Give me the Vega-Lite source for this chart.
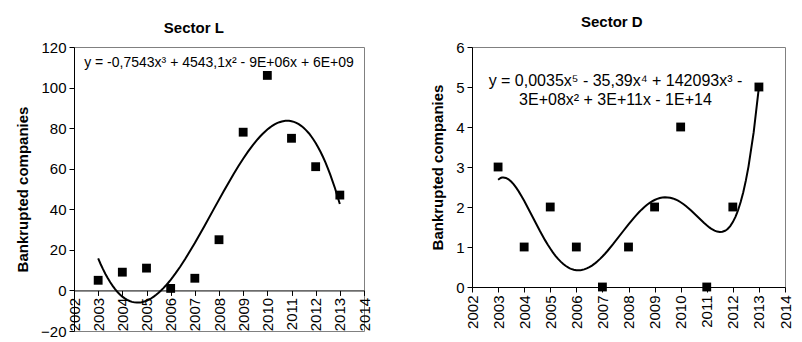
{
  "$schema": "https://vega.github.io/schema/vega-lite/v6.json",
  "background": "white",
  "padding": {"left": 15, "top": 14, "right": 4, "bottom": 2},
  "spacing": 57,
  "datasets": {
    "sectorL": [
      {"year": 2003, "companies": 5},
      {"year": 2004, "companies": 9},
      {"year": 2005, "companies": 11},
      {"year": 2006, "companies": 1},
      {"year": 2007, "companies": 6},
      {"year": 2008, "companies": 25},
      {"year": 2009, "companies": 78},
      {"year": 2010, "companies": 106},
      {"year": 2011, "companies": 75},
      {"year": 2012, "companies": 61},
      {"year": 2013, "companies": 47}
    ],
    "sectorD": [
      {"year": 2003, "companies": 3},
      {"year": 2004, "companies": 1},
      {"year": 2005, "companies": 2},
      {"year": 2006, "companies": 1},
      {"year": 2007, "companies": 0},
      {"year": 2008, "companies": 1},
      {"year": 2009, "companies": 2},
      {"year": 2010, "companies": 4},
      {"year": 2011, "companies": 0},
      {"year": 2012, "companies": 2},
      {"year": 2013, "companies": 5}
    ]
  },
  "hconcat": [
    {
      "width": 290,
      "height": 284,
      "title": {"text": "Sector L", "offset": 4},
      "layer": [
        {
          "data": {"name": "sectorL"},
          "transform": [
            {"regression": "companies", "on": "year", "method": "poly", "order": 3, "extent": [2003, 2013]}
          ],
          "mark": {"type": "line", "color": "black", "strokeWidth": 2},
          "encoding": {
            "x": {
              "field": "year", "type": "quantitative",
              "scale": {"domain": [2002, 2014], "nice": false, "zero": false},
              "axis": {
                "values": [2002, 2003, 2004, 2005, 2006, 2007, 2008, 2009, 2010, 2011, 2012, 2013, 2014],
                "format": "d", "labelAngle": -90, "title": null, "offset": -40.57,
                "tickSize": 5, "labelPadding": 2, "labelOverlap": false, "labelFlush": false
              }
            },
            "y": {
              "field": "companies", "type": "quantitative",
              "scale": {"domain": [-20, 120], "nice": false, "zero": false},
              "axis": {
                "values": [-20, 0, 20, 40, 60, 80, 100, 120],
                "title": "Bankrupted companies", "tickSize": 5, "labelPadding": 3,
                "titlePadding": 10, "labelOverlap": false, "labelFlush": false
              }
            }
          }
        },
        {
          "data": {"name": "sectorL"},
          "mark": {"type": "square", "color": "black", "filled": true, "opacity": 1, "size": 78},
          "encoding": {
            "x": {
              "field": "year", "type": "quantitative",
              "scale": {"domain": [2002, 2014], "nice": false, "zero": false},
              "axis": {
                "values": [2002, 2003, 2004, 2005, 2006, 2007, 2008, 2009, 2010, 2011, 2012, 2013, 2014],
                "format": "d", "labelAngle": -90, "title": null, "offset": -40.57,
                "tickSize": 5, "labelPadding": 2, "labelOverlap": false, "labelFlush": false
              }
            },
            "y": {
              "field": "companies", "type": "quantitative",
              "scale": {"domain": [-20, 120], "nice": false, "zero": false},
              "axis": {
                "values": [-20, 0, 20, 40, 60, 80, 100, 120],
                "title": "Bankrupted companies", "tickSize": 5, "labelPadding": 3,
                "titlePadding": 10, "labelOverlap": false, "labelFlush": false
              }
            }
          }
        },
        {
          "data": {"values": [{}]},
          "mark": {
            "type": "text", "font": "Liberation Sans", "fontSize": 14, "color": "black",
            "align": "center", "baseline": "middle"
          },
          "encoding": {
            "x": {
              "datum": 2008, "type": "quantitative",
              "scale": {"domain": [2002, 2014], "nice": false, "zero": false},
              "axis": {
                "values": [2002, 2003, 2004, 2005, 2006, 2007, 2008, 2009, 2010, 2011, 2012, 2013, 2014],
                "format": "d", "labelAngle": -90, "title": null, "offset": -40.57,
                "tickSize": 5, "labelPadding": 2, "labelOverlap": false, "labelFlush": false
              }
            },
            "y": {
              "datum": 112, "type": "quantitative",
              "scale": {"domain": [-20, 120], "nice": false, "zero": false},
              "axis": {
                "values": [-20, 0, 20, 40, 60, 80, 100, 120],
                "title": "Bankrupted companies", "tickSize": 5, "labelPadding": 3,
                "titlePadding": 10, "labelOverlap": false, "labelFlush": false
              }
            },
            "text": {"value": "y = -0,7543x³ + 4543,1x² - 9E+06x + 6E+09"}
          }
        }
      ]
    },
    {
      "width": 313,
      "height": 240,
      "title": {"text": "Sector D", "offset": 9.6},
      "layer": [
        {
          "data": {"name": "sectorD"},
          "transform": [
            {"regression": "companies", "on": "year", "method": "poly", "order": 5, "extent": [2003, 2013]}
          ],
          "mark": {"type": "line", "color": "black", "strokeWidth": 2},
          "encoding": {
            "x": {
              "field": "year", "type": "quantitative",
              "scale": {"domain": [2002, 2014], "nice": false, "zero": false},
              "axis": {
                "values": [2002, 2003, 2004, 2005, 2006, 2007, 2008, 2009, 2010, 2011, 2012, 2013, 2014],
                "format": "d", "labelAngle": -90, "title": null,
                "tickSize": 5, "labelPadding": 3, "labelOverlap": false, "labelFlush": false
              }
            },
            "y": {
              "field": "companies", "type": "quantitative",
              "scale": {"domain": [0, 6], "nice": false, "zero": false},
              "axis": {
                "values": [0, 1, 2, 3, 4, 5, 6],
                "title": "Bankrupted companies", "tickSize": 5, "labelPadding": 3,
                "titlePadding": 10, "labelOverlap": false, "labelFlush": false
              }
            }
          }
        },
        {
          "data": {"name": "sectorD"},
          "mark": {"type": "square", "color": "black", "filled": true, "opacity": 1, "size": 78},
          "encoding": {
            "x": {
              "field": "year", "type": "quantitative",
              "scale": {"domain": [2002, 2014], "nice": false, "zero": false},
              "axis": {
                "values": [2002, 2003, 2004, 2005, 2006, 2007, 2008, 2009, 2010, 2011, 2012, 2013, 2014],
                "format": "d", "labelAngle": -90, "title": null,
                "tickSize": 5, "labelPadding": 3, "labelOverlap": false, "labelFlush": false
              }
            },
            "y": {
              "field": "companies", "type": "quantitative",
              "scale": {"domain": [0, 6], "nice": false, "zero": false},
              "axis": {
                "values": [0, 1, 2, 3, 4, 5, 6],
                "title": "Bankrupted companies", "tickSize": 5, "labelPadding": 3,
                "titlePadding": 10, "labelOverlap": false, "labelFlush": false
              }
            }
          }
        },
        {
          "data": {"values": [{}]},
          "mark": {
            "type": "text", "font": "Liberation Sans", "fontSize": 16, "color": "black",
            "align": "center", "baseline": "middle", "lineHeight": 19
          },
          "encoding": {
            "x": {
              "datum": 2007.5, "type": "quantitative",
              "scale": {"domain": [2002, 2014], "nice": false, "zero": false},
              "axis": {
                "values": [2002, 2003, 2004, 2005, 2006, 2007, 2008, 2009, 2010, 2011, 2012, 2013, 2014],
                "format": "d", "labelAngle": -90, "title": null,
                "tickSize": 5, "labelPadding": 3, "labelOverlap": false, "labelFlush": false
              }
            },
            "y": {
              "datum": 5.14, "type": "quantitative",
              "scale": {"domain": [0, 6], "nice": false, "zero": false},
              "axis": {
                "values": [0, 1, 2, 3, 4, 5, 6],
                "title": "Bankrupted companies", "tickSize": 5, "labelPadding": 3,
                "titlePadding": 10, "labelOverlap": false, "labelFlush": false
              }
            },
            "text": {"value": ["y = 0,0035x⁵ - 35,39x⁴ + 142093x³ -", "3E+08x² + 3E+11x - 1E+14"]}
          }
        }
      ]
    }
  ],
  "config": {
    "view": {"stroke": "#808080", "strokeWidth": 1},
    "axis": {
      "grid": false,
      "labelFont": "Liberation Sans", "labelFontSize": 15, "labelColor": "black",
      "titleFont": "Liberation Sans", "titleFontSize": 15, "titleFontWeight": "bold", "titleColor": "black",
      "domainColor": "black", "tickColor": "black"
    },
    "title": {"font": "Liberation Sans", "fontSize": 15, "fontWeight": "bold", "color": "black", "frame": "bounds", "anchor": "middle"}
  }
}
